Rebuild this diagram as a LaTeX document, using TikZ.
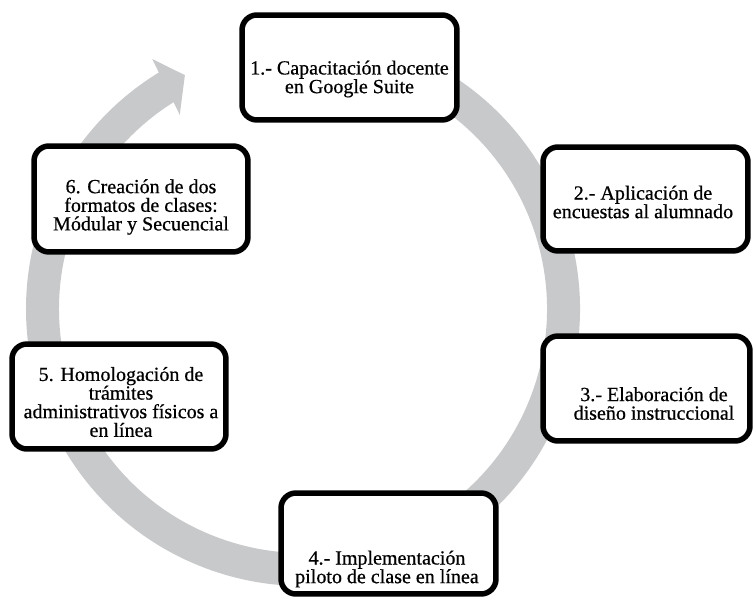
\documentclass[tikz,border=0pt]{standalone}
\usepackage{fontspec}
\setmainfont{Liberation Serif}
\newfontfamily\stagefont{Liberation Serif}[FakeBold=0.6]
\usetikzlibrary{calc}

\definecolor{ringgray}{RGB}{200,201,203}

\begin{document}
\begin{tikzpicture}[x=0.02cm,y=0.02cm,
  stagebox/.style={draw=black,line width=0.11cm,rounded corners=0.3cm,fill=white,minimum width=4.3cm,minimum height=2.1cm,inner sep=0pt},
  stagetext/.style={align=center,inner sep=0pt,font=\stagefont\fontsize{11.4}{10.6}\selectfont}]
  \useasboundingbox (-303,-289) rectangle (450,309);
  % anillo gris y punta de flecha
  \draw[ringgray,line width=0.66cm] (70:260.5) arc[start angle=70,end angle=-238.8,radius=5.21cm];
  \fill[ringgray] (121.1:292) -- (116.8:262) -- (122.4:230) -- cycle;
  % etapas del ciclo
  \node[stagebox] (s1) at (46.5,241.5) {};
  \node[stagebox,minimum width=4.1cm,minimum height=2.08cm] (s2) at (342.5,110) {};
  \node[stagebox,minimum width=4.14cm] (s3) at (343.5,-79.5) {};
  \node[stagebox,minimum height=2.02cm] (s4) at (85.5,-234.5) {};
  \node[stagebox,minimum width=4.28cm] (s5) at (-184,-87.5) {};
  \node[stagebox,minimum width=4.28cm,minimum height=2.12cm] (s6) at (-162,110) {};
  % textos
  \node[stagetext] (t1) at ($(s1.center)+(0,-11.5)$) {1.- Capacitación docente\\en Google Suite};
  \node[stagetext] (t2) at ($(s2.center)+(-2.5,-3)$) {2.- Aplicación de\\encuestas al alumnado};
  \node[stagetext] (t3) at ($(s3.center)+(7.5,-15)$) {3.- Elaboración de\\diseño instruccional};
  \node[stagetext] (t4) at ($(s4.center)+(-1.5,-25.5)$) {4.- Implementación\\piloto de clase en línea};
  \node[stagetext] (t5) at ($(s5.center)+(2,-5.5)$) {5. Homologación de\\trámites\\administrativos físicos a\\en línea};
  \node[stagetext] (t6) at ($(s6.center)+(0,-8)$) {6. Creación de dos\\formatos de clases:\\Módular y Secuencial};
\end{tikzpicture}
\end{document}
